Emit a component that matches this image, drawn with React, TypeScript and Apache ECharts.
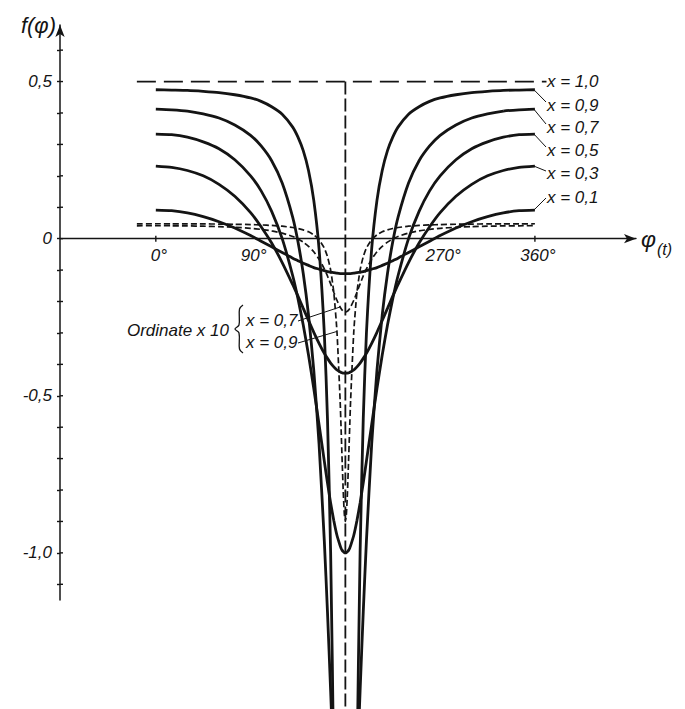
import React, { useEffect, useRef } from 'react';
import * as echarts from 'echarts';

const FONT = '"Liberation Sans", "DejaVu Sans", Arial, sans-serif';
const INK = '#141414';

// phase angle (degrees) sampled along the curves
const phi = [0, 15, 30, 45, 60, 75, 90, 100, 110, 120, 130, 135, 140, 145, 150, 155, 160, 163, 166, 169, 172, 175, 176, 177, 178, 179, 180,
  181, 182, 183, 184, 185, 188, 191, 194, 197, 200, 205, 210, 215, 220, 225, 230, 240, 250, 260, 270, 285, 300, 315, 330, 345, 360];

const fX01 = [0.091, 0.089, 0.082, 0.070, 0.054, 0.034, 0.010, -0.008, -0.026, -0.044, -0.062, -0.070, -0.078, -0.085, -0.092, -0.097, -0.102, -0.105, -0.107, -0.108, -0.110, -0.111, -0.111, -0.111, -0.111, -0.111, -0.111,
  -0.111, -0.111, -0.111, -0.111, -0.111, -0.110, -0.108, -0.107, -0.105, -0.102, -0.097, -0.092, -0.085, -0.078, -0.070, -0.062, -0.044, -0.026, -0.008, 0.010, 0.034, 0.054, 0.070, 0.082, 0.089, 0.091];

const fX03 = [0.231, 0.227, 0.217, 0.200, 0.173, 0.135, 0.083, 0.038, -0.014, -0.076, -0.146, -0.183, -0.222, -0.260, -0.298, -0.333, -0.365, -0.381, -0.396, -0.408, -0.418, -0.424, -0.426, -0.427, -0.428, -0.428, -0.429,
  -0.428, -0.428, -0.427, -0.426, -0.424, -0.418, -0.408, -0.396, -0.381, -0.365, -0.333, -0.298, -0.260, -0.222, -0.183, -0.146, -0.076, -0.014, 0.038, 0.083, 0.135, 0.173, 0.200, 0.217, 0.227, 0.231];

const fX05 = [0.333, 0.331, 0.323, 0.308, 0.286, 0.251, 0.200, 0.152, 0.087, 0.000, -0.118, -0.191, -0.275, -0.370, -0.477, -0.591, -0.708, -0.777, -0.841, -0.897, -0.944, -0.977, -0.986, -0.992, -0.996, -0.999, -1.000,
  -0.999, -0.996, -0.992, -0.986, -0.977, -0.944, -0.897, -0.841, -0.777, -0.708, -0.591, -0.477, -0.370, -0.275, -0.191, -0.118, 0.000, 0.087, 0.152, 0.200, 0.251, 0.286, 0.308, 0.323, 0.331, 0.333];

const fX07 = [0.412, 0.410, 0.406, 0.397, 0.384, 0.362, 0.329, 0.295, 0.248, 0.177, 0.068, -0.010, -0.111, -0.243, -0.419, -0.653, -0.962, -1.187, -1.438, -1.704, -1.961, -2.175, -2.230, -2.274, -2.307, -2.327, -2.333,
  -2.327, -2.307, -2.274, -2.230, -2.175, -1.961, -1.704, -1.438, -1.187, -0.962, -0.653, -0.419, -0.243, -0.111, -0.010, 0.068, 0.177, 0.248, 0.295, 0.329, 0.362, 0.384, 0.397, 0.406, 0.410, 0.412];

const fX09 = [0.474, 0.473, 0.472, 0.469, 0.465, 0.458, 0.448, 0.437, 0.420, 0.396, 0.355, 0.323, 0.280, 0.217, 0.122, -0.032, -0.301, -0.572, -0.997, -1.706, -2.953, -5.135, -6.101, -7.121, -8.060, -8.750, -9.000,
  -8.750, -8.060, -7.121, -6.101, -5.135, -2.953, -1.706, -0.997, -0.572, -0.301, -0.032, 0.122, 0.217, 0.280, 0.323, 0.355, 0.396, 0.420, 0.437, 0.448, 0.458, 0.465, 0.469, 0.472, 0.473, 0.474];

// dashed curves, plotted at one tenth of their ordinate ("Ordinate x 10")
const phiDashed = [-18, 0, 15, 30, 45, 60, 75, 90, 100, 110, 120, 130, 135, 140, 145, 150, 155, 160, 163, 166, 169, 172, 175, 176, 177, 178, 179, 180,
  181, 182, 183, 184, 185, 188, 191, 194, 197, 200, 205, 210, 215, 220, 225, 230, 240, 250, 260, 270, 285, 300, 315, 330, 345, 360];

const fX07Scaled = [0.0410, 0.0412, 0.0410, 0.0406, 0.0397, 0.0384, 0.0362, 0.0329, 0.0295, 0.0248, 0.0177, 0.0068, -0.0010, -0.0111, -0.0243, -0.0419, -0.0653, -0.0962, -0.1187, -0.1438, -0.1704, -0.1961, -0.2175, -0.2230, -0.2274, -0.2307, -0.2327, -0.2333,
  -0.2327, -0.2307, -0.2274, -0.2230, -0.2175, -0.1961, -0.1704, -0.1438, -0.1187, -0.0962, -0.0653, -0.0419, -0.0243, -0.0111, -0.0010, 0.0068, 0.0177, 0.0248, 0.0295, 0.0329, 0.0362, 0.0384, 0.0397, 0.0406, 0.0410, 0.0412];

const fX09Scaled = [0.0473, 0.0474, 0.0473, 0.0472, 0.0469, 0.0465, 0.0458, 0.0448, 0.0437, 0.0420, 0.0396, 0.0355, 0.0323, 0.0280, 0.0217, 0.0122, -0.0032, -0.0301, -0.0572, -0.0997, -0.1706, -0.2953, -0.5135, -0.6101, -0.7121, -0.8060, -0.8750, -0.9000,
  -0.8750, -0.8060, -0.7121, -0.6101, -0.5135, -0.2953, -0.1706, -0.0997, -0.0572, -0.0301, -0.0032, 0.0122, 0.0217, 0.0280, 0.0323, 0.0355, 0.0396, 0.0420, 0.0437, 0.0448, 0.0458, 0.0465, 0.0469, 0.0472, 0.0473, 0.0474];

// limiting case x = 1,0 : constant 0,5 with a vertical asymptote at 180°
const phiX10 = [-18, 371];
const fX10 = [0.5, 0.5];
const asymptotePhi = [180, 180];
const asymptoteF = [0.5, -1.5];

// axes
const yTickValues = [0.6, 0.5, 0.4, 0.3, 0.2, 0.1, 0, -0.1, -0.2, -0.3, -0.4, -0.5, -0.6, -0.7, -0.8, -0.9, -1.0, -1.1];
const yLabelValues = [0.5, 0, -0.5, -1.0];
const yLabelTexts = ['0,5', '0', '-0,5', '-1,0'];
const xTickValues = [0, 360];
const xLabelValues = [0, 90, 270, 360];
const xLabelTexts = ['0°', '90°', '270°', '360°'];

const curveLabels = ['x = 1,0', 'x = 0,9', 'x = 0,7', 'x = 0,5', 'x = 0,3', 'x = 0,1'];
const insetNote = 'Ordinate x 10';
const insetLabels = ['x = 0,7', 'x = 0,9'];

export default function App() {
  const ref = useRef<HTMLDivElement>(null);

  useEffect(() => {
    document.body.style.margin = '0';
    const el = ref.current;
    if (!el) return;
    const chart = echarts.init(el, null, { renderer: 'svg' });

    const pts = (xs: number[], ys: number[]) => xs.map((x, i) => [x, ys[i]]);
    const lookup = (vals: number[], texts: string[]) => (v: number) => {
      const i = vals.findIndex((a) => Math.abs(a - v) < 1e-9);
      return i >= 0 ? texts[i] : '';
    };
    const FS = 17;
    const italic = { fontFamily: FONT, fontStyle: 'italic' as const, color: INK, fontSize: FS };

    const solid = (name: string, ys: number[]) => ({
      type: 'line', name, data: pts(phi, ys), showSymbol: false, clip: false, smooth: 0.2,
      silent: true, z: 4, lineStyle: { color: INK, width: 2.8 },
    });
    const dashed = (name: string, ys: number[]) => ({
      type: 'line', name, data: pts(phiDashed, ys), showSymbol: false, clip: false, smooth: 0.2,
      silent: true, z: 3, lineStyle: { color: INK, width: 1.7, type: [6, 3] },
    });

    const X_MIN = -91, X_MAX = 456, Y_MIN = -1.15, Y_MAX = 0.68;

    const option: any = {
      animation: false,
      backgroundColor: '#ffffff',
      grid: { left: 60, right: 49, top: 25, bottom: 109 },
      xAxis: {
        type: 'value', min: X_MIN, max: X_MAX,
        name: '{p|φ}{t|(t)}', nameLocation: 'end', nameGap: 5,
        nameTextStyle: {
          rich: {
            p: { fontFamily: FONT, fontStyle: 'italic', fontSize: 23, color: INK },
            t: { fontFamily: FONT, fontStyle: 'italic', fontSize: 16, color: INK, padding: [22, 0, 0, 1] },
          },
        },
        axisLine: { onZero: true, symbol: ['none', 'arrow'], symbolSize: [7, 12], lineStyle: { color: INK, width: 1.4 } },
        axisTick: { show: false },
        axisLabel: { show: false },
        splitLine: { show: false },
      },
      yAxis: {
        type: 'value', min: Y_MIN, max: Y_MAX, position: 'left',
        name: 'f(φ)', nameLocation: 'end', nameGap: 0,
        nameTextStyle: { ...italic, fontSize: 22, align: 'right', verticalAlign: 'middle', padding: [0, 4, 0, 0] },
        axisLine: { onZero: false, symbol: ['none', 'arrow'], symbolSize: [7, 12], lineStyle: { color: INK, width: 1.5 } },
        axisTick: { customValues: yTickValues, length: 3, lineStyle: { color: INK, width: 1.4 } },
        axisLabel: { customValues: yLabelValues, formatter: lookup(yLabelValues, yLabelTexts), margin: 8, ...italic },
        splitLine: { show: false },
      },
      series: [
        {
          type: 'line', name: 'x = 1,0', data: pts(phiX10, fX10), showSymbol: false, clip: false, silent: true,
          lineStyle: { color: INK, width: 1.8, type: [19, 8] },
        },
        {
          type: 'line', name: 'asymptote', data: pts(asymptotePhi, asymptoteF), showSymbol: false, clip: false, silent: true,
          lineStyle: { color: INK, width: 1.8, type: [13, 4] },
        },
        solid('x = 0,9', fX09),
        solid('x = 0,7', fX07),
        solid('x = 0,5', fX05),
        solid('x = 0,3', fX03),
        solid('x = 0,1', fX01),
        dashed('x = 0,7 (x10)', fX07Scaled),
        dashed('x = 0,9 (x10)', fX09Scaled),
      ],
    };
    chart.setOption(option);

    const toPx = (p: number[]) => chart.convertToPixel({ xAxisIndex: 0, yAxisIndex: 0 }, p) as number[];
    const last = phi.length - 1;
    const ends = [fX09, fX07, fX05, fX03, fX01].map((a) => toPx([phi[last], a[last]]));
    const labelX = 547;
    const labelYs = [81, 105, 127, 150, 173, 197];
    const leaderDy = [-3, -3, -3, -2, 1];
    const textStyle = (text: string, extra: any = {}) => ({
      text, fontFamily: FONT, fontStyle: 'italic', fontSize: FS, fill: INK, verticalAlign: 'middle', align: 'left', ...extra,
    });
    const thin = { stroke: INK, lineWidth: 1 };
    const tickStyle = { stroke: INK, lineWidth: 1.4 };

    const i07 = phiDashed.indexOf(175);
    const i09 = phiDashed.indexOf(172);
    const inset07 = toPx([phiDashed[i07], fX07Scaled[i07]]);
    const inset09 = toPx([phiDashed[i09], fX09Scaled[i09]]);

    const yAxisX = toPx([X_MIN, 0])[0];

    const graphic: any[] = [
      // inner halves of the y ticks (crossing marks)
      ...yTickValues.map((v) => {
        const p = toPx([X_MIN, v]);
        return { type: 'line', silent: true, shape: { x1: yAxisX, y1: p[1], x2: yAxisX + 3, y2: p[1] }, style: tickStyle };
      }),
      // x ticks crossing the abscissa
      ...xTickValues.map((v) => {
        const p = toPx([v, 0]);
        return { type: 'line', silent: true, shape: { x1: p[0], y1: p[1] - 3, x2: p[0], y2: p[1] + 3 }, style: tickStyle };
      }),
      // x tick labels on the abscissa
      ...xLabelValues.map((v, i) => {
        const p = toPx([v, 0]);
        return {
          type: 'text', silent: true, x: p[0] + 3, y: p[1] + 8,
          style: textStyle(xLabelTexts[i], { align: 'center', verticalAlign: 'top' }),
        };
      }),
      ...curveLabels.map((t, i) => ({ type: 'text', x: labelX, y: labelYs[i], style: textStyle(t), silent: true })),
      ...ends.map((p, i) => ({
        type: 'line', silent: true,
        shape: { x1: p[0] - 1, y1: p[1], x2: labelX - 1, y2: labelYs[i + 1] + leaderDy[i] },
        style: thin,
      })),
      { type: 'text', x: 229, y: 330, style: textStyle(insetNote, { align: 'right' }), silent: true },
      {
        type: 'polyline', silent: true,
        shape: { points: [[243, 305], [239.5, 309], [239, 325], [235, 329], [239, 333], [239.5, 349], [243, 353]], smooth: 0.35 },
        style: { stroke: INK, lineWidth: 1.3, fill: null },
      },
      { type: 'text', x: 246, y: 320, style: textStyle(insetLabels[0]), silent: true },
      { type: 'text', x: 246, y: 342, style: textStyle(insetLabels[1]), silent: true },
      { type: 'line', silent: true, shape: { x1: 298, y1: 321, x2: inset07[0], y2: inset07[1] }, style: thin },
      { type: 'line', silent: true, shape: { x1: 298, y1: 343, x2: inset09[0], y2: inset09[1] }, style: thin },
    ];
    chart.setOption({ graphic });

    return () => chart.dispose();
  }, []);

  return <div ref={ref} style={{ width: 685, height: 709, position: 'relative', background: '#fff' }} />;
}
